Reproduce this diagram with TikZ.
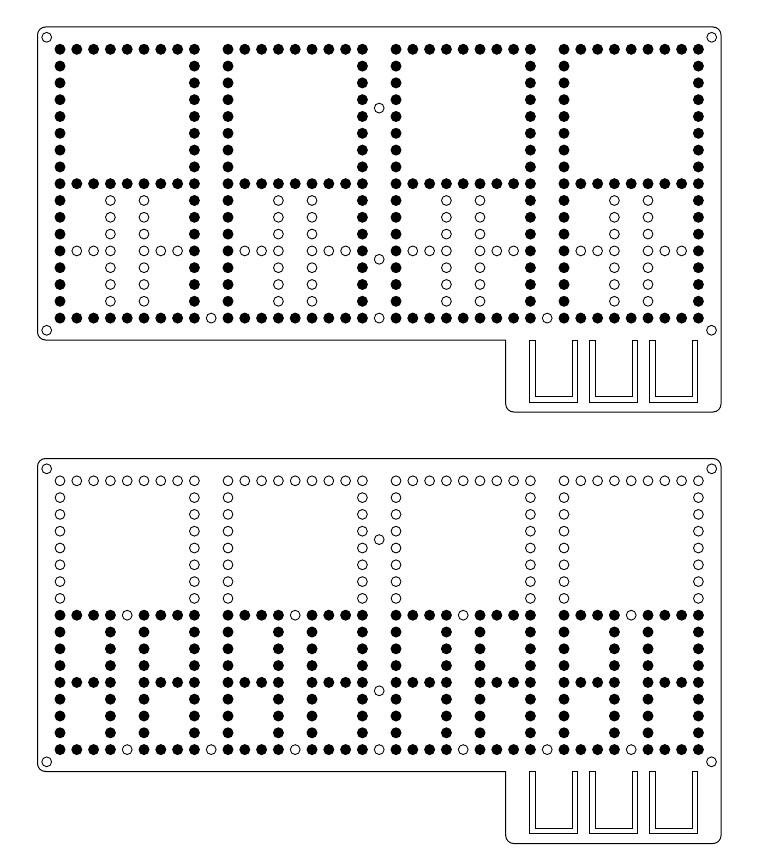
\documentclass[tikz,border=0pt]{standalone}
\usetikzlibrary{positioning}
\tikzset{
    holeb/.style = {circle, draw=none, fill=black, inner sep=0pt, outer sep=0pt, minimum size=11pt},
    holeo/.style = {circle, draw=black, line width=0.9pt, fill=white, inner sep=0pt, outer sep=0pt, minimum size=9.8pt},
    edgep/.style = {-, line width=1pt, black, line cap=rect},
    edgeu/.style = {-, line width=0.9pt, black, line join=miter},
    grid/.style = {x=16.8pt, y=-16.8pt}
}
\begin{document}
\begin{tikzpicture}[x=1pt,y=-1pt]
\useasboundingbox[fill=white] (0,0) rectangle (757,866);
% plate outlines, slots and corner holes
\foreach \p/\dy in {t/0,u/431.5}{
\begin{scope}[shift={(0,\dy)}]
\draw[edgep, rounded corners=8pt] (505.7,340) -- (37.5,340) -- (37.5,27) -- (721,27) -- (721,412) -- (505.7,412) -- (505.7,340);
\foreach \s in {0,1,2}{
\draw[edgeu, shift={(60*\s,0)}] (529.3,340) -- (529.3,402.3) -- (577.7,402.3) -- (577.7,340) -- (572,340) -- (572,396.7) -- (535,396.7) -- (535,340) -- cycle;
}
\node[holeo] at (46.7,37.3) (\p cornera) {};
\node[holeo] at (711.7,37.3) (\p cornerb) {};
\node[holeo] at (46.7,330.3) (\p cornerc) {};
\node[holeo] at (711.5,330.3) (\p cornerd) {};
\end{scope}
}
% top plate
\begin{scope}[shift={(60,49.3)},grid]
\foreach \b in {0,1,2,3}{
\foreach \c in {0,...,8}{
\node[holeb] at (10*\b+\c,0) (ta\b\c) {};
\node[holeb] at (10*\b+\c,8) (tb\b\c) {};
\node[holeb] at (10*\b+\c,16) (tc\b\c) {};
}
\foreach \r in {1,...,7,9,10,11,12,13,14,15}{
\node[holeb] at (10*\b,\r) (tl\b\r) {};
\node[holeb] at (10*\b+8,\r) (tr\b\r) {};
}
\foreach \r in {9,...,15}{
\node[holeo] at (10*\b+3,\r) (tm\b\r) {};
\node[holeo] at (10*\b+5,\r) (tn\b\r) {};
}
\foreach \c in {1,2,6,7}{
\node[holeo] at (10*\b+\c,12) (th\b\c) {};
}
}
\foreach \b in {0,1,2}{
\node[holeo] at (10*\b+9,16) (tg\b) {};
}
\node[holeo] at (19,3.5) (tx) {};
\node[holeo] at (19,12.5) (ty) {};
\end{scope}
% bottom plate
\begin{scope}[shift={(60,480.8)},grid]
\foreach \b in {0,1,2,3}{
\foreach \c in {0,...,8}{
\node[holeo] at (10*\b+\c,0) (ua\b\c) {};
}
\foreach \c in {0,1,2,3,5,6,7,8}{
\node[holeb] at (10*\b+\c,8) (ub\b\c) {};
\node[holeb] at (10*\b+\c,16) (uc\b\c) {};
}
\node[holeo] at (10*\b+4,8) (ud\b) {};
\node[holeo] at (10*\b+4,16) (ue\b) {};
\foreach \r in {1,...,7}{
\node[holeo] at (10*\b,\r) (ul\b\r) {};
\node[holeo] at (10*\b+8,\r) (ur\b\r) {};
}
\foreach \r in {9,...,15}{
\node[holeb] at (10*\b,\r) (uf\b\r) {};
\node[holeb] at (10*\b+8,\r) (uj\b\r) {};
\node[holeb] at (10*\b+3,\r) (um\b\r) {};
\node[holeb] at (10*\b+5,\r) (un\b\r) {};
}
\foreach \c in {1,2,6,7}{
\node[holeb] at (10*\b+\c,12) (uh\b\c) {};
}
}
\foreach \b in {0,1,2}{
\node[holeo] at (10*\b+9,16) (ug\b) {};
}
\node[holeo] at (19,3.5) (ux) {};
\node[holeo] at (19,12.5) (uy) {};
\end{scope}
\end{tikzpicture}
\end{document}
